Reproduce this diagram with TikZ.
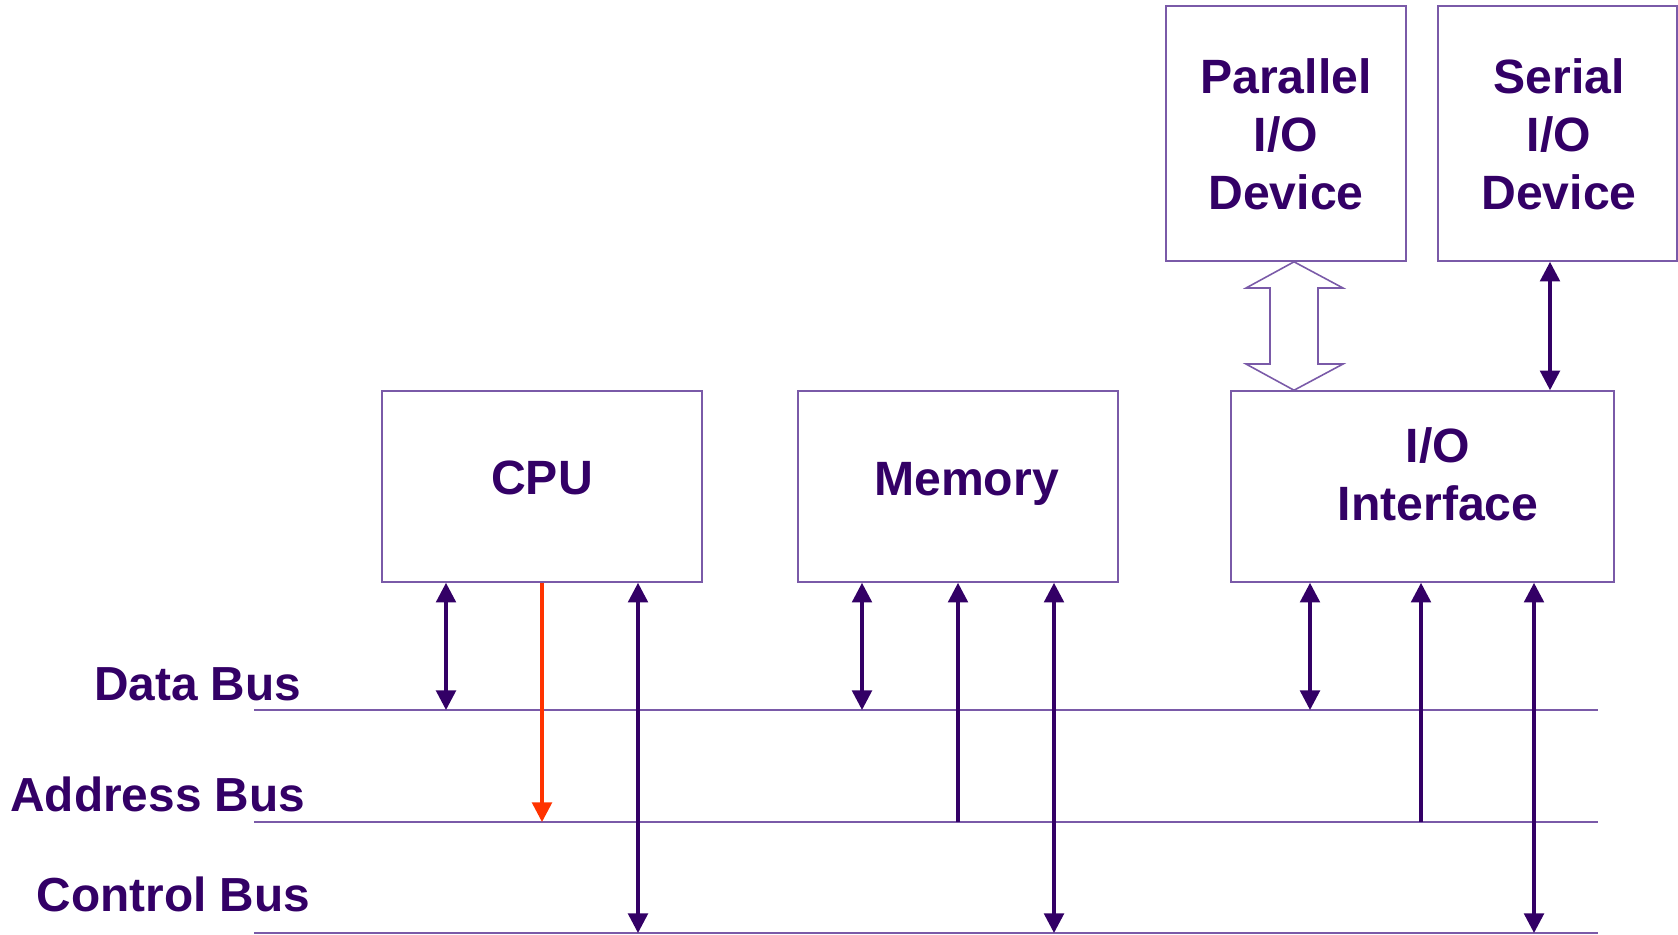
\documentclass[tikz,border=0pt]{standalone}
\usepackage{fontspec}
\setmainfont{Liberation Sans}
\usepackage{xcolor}
\usepackage{tikz}
\usetikzlibrary{arrows.meta,calc,positioning}

\definecolor{ink}{HTML}{330066}
\definecolor{frame}{HTML}{7A5AA8}
\definecolor{addr}{HTML}{FF3300}

\tikzset{
  unit/.style={draw=frame, line width=0.45pt, minimum height=1.91cm, inner sep=0pt},
  unittext/.style={text=ink, font=\fontsize{13.7}{16.5}\selectfont\bfseries, align=center, inner sep=0pt},
  busline/.style={draw=frame, line width=0.45pt},
  buslabel/.style={text=ink, font=\fontsize{13.6}{16.5}\selectfont\bfseries, anchor=base east, inner sep=0pt},
  biarrow/.style={draw=ink, line width=1pt, {Triangle[length=5.6pt,width=5.6pt]}-{Triangle[length=5.6pt,width=5.6pt]}},
  uparrow/.style={draw=ink, line width=1pt, -{Triangle[length=5.6pt,width=5.6pt]}},
  redarrow/.style={draw=addr, line width=1pt, -{Triangle[length=5.6pt,width=5.6pt]}}
}

\begin{document}
\begin{tikzpicture}
\useasboundingbox (0,0) rectangle (16.78,-9.34);

% Units
\node[unit, minimum width=3.20cm] (cpu) at (5.42,-4.865) {};
\node[unit, minimum width=3.20cm] (mem) at (9.58,-4.865) {};
\node[unit, minimum width=3.83cm] (ioi) at (14.225,-4.865) {};
\node[unit, minimum width=2.40cm, minimum height=2.55cm] (par) at (12.86,-1.335) {};
\node[unit, minimum width=2.39cm, minimum height=2.55cm] (ser) at (15.575,-1.335) {};

\node[unittext] (cputxt) at ($(cpu)+(0,0.085)$) {CPU};
\node[unittext] (memtxt) at ($(mem)+(0.085,0.03)$) {Memory};
\node[unittext] (ioitxt) at ($(ioi)+(0.155,0.12)$) {I/O\\Interface};
\node[unittext] (partxt) at ($(par)+(0,-0.01)$) {Parallel\\I/O\\Device};
\node[unittext] (sertxt) at ($(ser)+(0.015,-0.01)$) {Serial\\I/O\\Device};

% Buses
\coordinate (dataL) at (2.54,-7.10);  \coordinate (dataR) at (15.98,-7.10);
\coordinate (addrL) at (2.54,-8.22);  \coordinate (addrR) at (15.98,-8.22);
\coordinate (ctrlL) at (2.54,-9.33);  \coordinate (ctrlR) at (15.98,-9.33);
\draw[busline] (dataL) -- (dataR);
\draw[busline] (addrL) -- (addrR);
\draw[busline] (ctrlL) -- (ctrlR);

\node[buslabel] (datalbl) at (3.02,-7.00) {Data Bus};
\node[buslabel] (addrlbl) at (3.06,-8.11) {Address Bus};
\node[buslabel] (ctrllbl) at (3.11,-9.11) {Control Bus};

% CPU connections
\draw[biarrow] (cpu.south -| 4.46,0) -- (4.46,0 |- dataL);
\draw[redarrow] (cpu.south) -- (cpu.south |- addrL);
\draw[biarrow] (cpu.south -| 6.38,0) -- (6.38,0 |- ctrlL);

% Memory connections
\draw[biarrow] (mem.south -| 8.62,0) -- (8.62,0 |- dataL);
\draw[uparrow] (9.58,0 |- addrL) -- (mem.south -| 9.58,0);
\draw[biarrow] (mem.south -| 10.54,0) -- (10.54,0 |- ctrlL);

% I/O interface connections
\draw[biarrow] (ioi.south -| 13.10,0) -- (13.10,0 |- dataL);
\draw[uparrow] (14.21,0 |- addrL) -- (ioi.south -| 14.21,0);
\draw[biarrow] (ioi.south -| 15.34,0) -- (15.34,0 |- ctrlL);

% Devices
\draw[biarrow] (ser.south -| 15.50,0) -- (ioi.north -| 15.50,0);
\draw[draw=frame, line width=0.45pt]
  (12.94,0 |- par.south) -- (13.43,-2.88) -- (13.18,-2.88) -- (13.18,-3.64) -- (13.43,-3.64)
  -- (12.94,0 |- ioi.north) -- (12.46,-3.64) -- (12.70,-3.64) -- (12.70,-2.88) -- (12.46,-2.88) -- cycle;
\end{tikzpicture}
\end{document}
